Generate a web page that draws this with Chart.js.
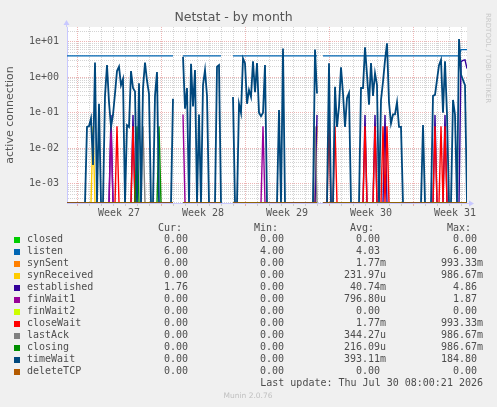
<!DOCTYPE html>
<html><head><meta charset="utf-8">
<script src="https://cdn.jsdelivr.net/npm/chart.js@4/dist/chart.umd.min.js"></script>
<style>html,body{margin:0;padding:0;background:#f0f0f0;overflow:hidden}canvas{display:block}</style>
</head><body>
<canvas id="c" width="497" height="407"></canvas>
<script>
// ---------- data ----------
const chartTitle = 'Netstat - by month';
const yAxisTitle = 'active connection';
const weekLabels = ['Week 27', 'Week 28', 'Week 29', 'Week 30', 'Week 31'];
const weekMidIdx = [26, 68, 110, 152, 194];      // sample index of each week label
const weekStartIdx = [5, 47, 89, 131, 173];      // sample index of each week start
const yTickValues = [1e-3, 1e-2, 1e-1, 1, 10];
const yTickLabels = ['1e-03', '1e-02', '1e-01', '1e+00', '1e+01'];
const yMin = 2.9e-4, yMax = 26;
const nPoints = 201;                              // 4-hour samples
const unknownRanges = [[54, 57], [78, 82], [126, 127]];  // no data (gaps)

const seriesNames = ['closed', 'listen', 'synSent', 'synReceived', 'established', 'finWait1',
  'finWait2', 'closeWait', 'lastAck', 'closing', 'timeWait', 'deleteTCP'];
const seriesColors = ['#00CC00', '#0066B3', '#FF8000', '#FFCC00', '#330099', '#990099',
  '#CCFF00', '#FF0000', '#808080', '#008F00', '#00487D', '#B35A00'];
const curValues = ['0.00', '6.00', '0.00', '0.00', '1.76', '0.00', '0.00', '0.00', '0.00', '0.00', '0.00', '0.00'];
const minValues = ['0.00', '4.00', '0.00', '0.00', '0.00', '0.00', '0.00', '0.00', '0.00', '0.00', '0.00', '0.00'];
const avgValues = ['0.00', '4.03', '1.77m', '231.97u', '40.74m', '796.80u', '0.00', '1.77m', '344.27u', '216.09u', '393.11m', '0.00'];
const maxValues = ['0.00', '6.00', '993.33m', '986.67m', '4.86', '1.87', '0.00', '993.33m', '986.67m', '986.67m', '184.80', '0.00'];
const lastUpdate = 'Last update: Thu Jul 30 08:00:21 2026';
const footer = 'Munin 2.0.76';
const sideText = 'RRDTOOL / TOBI OETIKER';

// timeWait, every 4-hour sample (null = no data)
const timeWait = [
  0, 0, 0, 0, 0, 0, 0, 0, 0, 0,
  0.04, 0.042, 0.07, 0.0034, 2.6, 0, 0.18, 0, 0, 0.3,
  2.2, 0.2, 0.04, 0.087, 0.35, 1.5, 2.0, 0.6, 0.9, 0,
  0.045, 0.04, 1.5, 0.5, 0.4, 0, 0.68, 0, 0.5, 2.6,
  0.8, 0.34, 0, 0, 0.3, 1.4, 0, 0, 0, 0,
  0, 0, 0, 0.25, null, null, null, null, 3.8, 0.13,
  0.5, 0, 2.4, 0.15, 1.6, 0, 0.09, 0, 0.6, 1.6,
  0.3, 0, 0, 0, 0, 2.0, 2.2, 0, null, null,
  null, null, null, 0.28, 0, 0, 0.18, 0.1, 3.4, 2.5,
  0.18, 0.44, 0.28, 2.8, 0.38, 2.5, 0.1, 0.08, 0.1, 2.2,
  0, 0, 0, 0, 0, 0, 0.12, 0, 6.5, 0,
  0, 0, 0, 0, 0, 0, 0, 0, 0, 0,
  0, 0, 0, 0, 6.0, 0.35, null, null, 0, 0,
  0, 2.5, 0, 0, 0.54, 0.04, 0.15, 1.9, 0.35, 0.04,
  0.26, 0.36, 0, 0, 0, 0, 0, 0.5, 0.5, 7.0,
  1.2, 0.17, 2.5, 0.3, 1.3, 0.6, 0, 0.23, 0.75, 3.0,
  9.0, 0.2, 0.05, 0.09, 0.09, 0.2, 0.04, 0.04, 0, 0,
  0, 0, 0, 0, 0, 0, 0, 0, 0.045, 0,
  0, 0, 0, 0.3, 0.32, 0.84, 2.2, 3.1, 0.1, 2.8,
  0.09, 0, 0, 0.23, 0.09, 0, 12, 1.2, 0.84, 0.6,
  0
];
// listen: [fromIdx, toIdx, value]
const listenLevels = [[0, 196, 4], [197, 200, 6]];
// sparse series: [sampleIdx, value]; all other known samples are 0
const closedSpikes = [];
const synSentSpikes = [[125, 0.042]];
const synReceivedSpikes = [[13, 0.042]];
const establishedSpikes = [[22, 0.087], [33, 0.087], [125, 0.087], [149, 0.087], [154, 0.087],
  [159, 0.087], [184, 0.087], [189, 0.087], [197, 2.75], [198, 3.0], [199, 3.1], [200, 1.76]];
const finWait1Spikes = [[22, 0.042], [58, 0.09], [98, 0.042]];
const finWait2Spikes = [];
const closeWaitSpikes = [[25, 0.042], [33, 0.042], [131, 0.042], [134, 0.042], [149, 0.042], [154, 0.042],
  [158, 0.042], [160, 0.042], [184, 0.042], [187, 0.042], [189, 0.042]];
const lastAckSpikes = [[38, 0.042], [124, 0.042]];
const closingSpikes = [[35, 0.042], [46, 0.042]];
const deleteTCPSpikes = [];

// ---------- build full series ----------
function applyGaps(out) {
  unknownRanges.forEach(([a, b]) => { for (let i = a; i <= b; i++) out[i] = null; });
  return out;
}
function fromSpikes(spikes) {
  const out = [];
  for (let i = 0; i < nPoints; i++) out.push(0);
  spikes.forEach(([i, v]) => { out[i] = v; });
  return applyGaps(out);
}
function fromLevels(levels) {
  const out = [];
  levels.forEach(([a, b, v]) => { for (let i = a; i <= b; i++) out[i] = v; });
  return applyGaps(out);
}
const seriesData = [
  fromSpikes(closedSpikes), fromLevels(listenLevels), fromSpikes(synSentSpikes),
  fromSpikes(synReceivedSpikes), fromSpikes(establishedSpikes), fromSpikes(finWait1Spikes),
  fromSpikes(finWait2Spikes), fromSpikes(closeWaitSpikes), fromSpikes(lastAckSpikes),
  fromSpikes(closingSpikes), timeWait.slice(), fromSpikes(deleteTCPSpikes)
];

// on a log axis a zero sample is drawn on the floor of the axis (as rrdtool does)
const toPlot = (y) => (y === 0 ? yMin : y);

const datasets = seriesNames.map((name, k) => ({
  label: name,
  data: seriesData[k].map((y, i) => ({ x: i, y: y === null ? null : toPlot(y) })),
  borderColor: seriesColors[k],
  backgroundColor: seriesColors[k],
  borderWidth: name === 'timeWait' ? 1.8 : 1.4,
  pointRadius: 0,
  tension: 0,
  fill: false,
  spanGaps: false,
  order: 100 - k          // later series drawn on top, like rrdtool
}));

// ---------- axis tick helpers ----------
const dayTicks = [];
for (let v = weekStartIdx[0]; v <= 200; v += 6) dayTicks.push(v);
const xTicks = dayTicks.concat(weekMidIdx).sort((a, b) => a - b);
const yGrid = [];
for (let e = -4; e <= 1; e++) for (let m = 1; m <= 9; m++) {
  const v = m * Math.pow(10, e);
  if (v >= yMin && v <= yMax) yGrid.push(v);
}
const majorGrid = 'rgba(222,120,120,0.55)';
const minorGrid = 'rgba(170,170,170,0.5)';
function isDecade(v) { return yTickValues.some(t => Math.abs(t - v) / t < 1e-6); }

// ---------- plugins ----------
const bgPlugin = {
  id: 'bg',
  beforeDraw(chart) {
    const { ctx, chartArea: a } = chart;
    ctx.save();
    ctx.fillStyle = '#f0f0f0';
    ctx.fillRect(0, 0, chart.width, chart.height);
    ctx.fillStyle = '#ffffff';
    ctx.fillRect(a.left, a.top, a.right - a.left, a.bottom - a.top);
    ctx.restore();
  }
};
const decorPlugin = {
  id: 'decor',
  afterDraw(chart) {
    const { ctx, chartArea: a } = chart;
    ctx.save();
    // axis arrows
    ctx.fillStyle = '#c8c8ff';
    ctx.strokeStyle = '#c8c8ff';
    ctx.lineWidth = 1;
    const yb = a.bottom + 0.5;
    ctx.beginPath(); ctx.moveTo(a.right, yb); ctx.lineTo(a.right + 3, yb); ctx.stroke();
    ctx.beginPath(); ctx.moveTo(a.right + 7, yb); ctx.lineTo(a.right + 2, yb - 3); ctx.lineTo(a.right + 2, yb + 3); ctx.closePath(); ctx.fill();
    const xl = a.left - 0.5;
    ctx.beginPath(); ctx.moveTo(xl, a.top); ctx.lineTo(xl, a.top - 3); ctx.stroke();
    ctx.beginPath(); ctx.moveTo(xl, a.top - 7); ctx.lineTo(xl - 3, a.top - 2); ctx.lineTo(xl + 3, a.top - 2); ctx.closePath(); ctx.fill();

    // side text
    ctx.save();
    ctx.translate(487.5, 13);
    ctx.rotate(Math.PI / 2);
    ctx.fillStyle = '#c8c8c8';
    ctx.font = '7px "DejaVu Sans"';
    ctx.textAlign = 'left';
    ctx.textBaseline = 'middle';
    ctx.fillText(sideText, 0, 0);
    ctx.restore();

    // legend table
    ctx.font = '10px "DejaVu Sans Mono"';
    ctx.fillStyle = '#4d4d4d';
    ctx.textBaseline = 'middle';
    const colEnds = [188, 284, 380, 477];
    const headers = ['Cur:', 'Min:', 'Avg:', 'Max:'];
    const headerY = 228;
    ctx.textAlign = 'right';
    headers.forEach((h, c) => ctx.fillText(h, colEnds[c] - 6, headerY));
    const cols = [curValues, minValues, avgValues, maxValues];
    seriesNames.forEach((name, k) => {
      const y = 239.5 + k * 12;
      ctx.fillStyle = seriesColors[k];
      ctx.fillRect(14, Math.round(y) - 3, 6, 6);
      ctx.fillStyle = '#4d4d4d';
      ctx.textAlign = 'left';
      ctx.fillText(name, 27, y);
      cols.forEach((col, c) => {
        const s = col[k];
        const m = s.match(/^([-\d.]+)([a-zA-Z]?)$/);
        ctx.textAlign = 'right';
        ctx.fillText(m[1], colEnds[c], y);
        if (m[2]) { ctx.textAlign = 'left'; ctx.fillText(m[2], colEnds[c], y); }
      });
    });
    ctx.textAlign = 'right';
    ctx.fillText(lastUpdate, 483, 383.5);
    ctx.fillStyle = '#c0c0c0';
    ctx.font = '7.5px "DejaVu Sans"';
    ctx.textAlign = 'center';
    ctx.fillText(footer, 248, 396);
    ctx.restore();
  }
};

new Chart(document.getElementById('c'), {
  type: 'line',
  data: { datasets: datasets },
  options: {
    responsive: false,
    animation: false,
    devicePixelRatio: 1,
    events: [],
    layout: { padding: { left: 0, right: 30, top: 0, bottom: 188 } },
    plugins: {
      legend: { display: false },
      tooltip: { enabled: false },
      title: {
        display: true, text: chartTitle, color: '#555555',
        font: { family: 'DejaVu Sans', size: 12.5, weight: 'normal' },
        padding: { top: 10, bottom: 2 }
      }
    },
    scales: {
      x: {
        type: 'linear', min: 0, max: 200, bounds: 'data',
        afterBuildTicks: (s) => { s.ticks = xTicks.map(v => ({ value: v })); },
        afterFit: (s) => { s.height = 16; },
        ticks: {
          autoSkip: false, maxRotation: 0, minRotation: 0, padding: 1, color: '#555555',
          font: { family: 'DejaVu Sans Mono', size: 10 },
          callback: (v) => { const k = weekMidIdx.indexOf(v); return k >= 0 ? weekLabels[k] : ''; }
        },
        grid: {
          color: (c) => {
            const v = c.tick ? c.tick.value : null;
            if (weekStartIdx.includes(v)) return majorGrid;
            if (weekMidIdx.includes(v)) return 'rgba(0,0,0,0)';
            return minorGrid;
          },
          lineWidth: 1, tickLength: 3, drawTicks: true
        },
        border: { display: true, color: '#c8c8ff', dash: [1, 1] }
      },
      y: {
        type: 'logarithmic', min: yMin, max: yMax, bounds: 'data',
        afterBuildTicks: (s) => { s.ticks = yGrid.map(v => ({ value: v })); },
        afterFit: (s) => { s.width = 67; },
        ticks: {
          autoSkip: false, padding: 8, color: '#555555',
          font: { family: 'DejaVu Sans Mono', size: 10 },
          callback: (v) => {
            const k = yTickValues.findIndex(t => Math.abs(t - v) / t < 1e-6);
            return k >= 0 ? yTickLabels[k] : '';
          }
        },
        grid: {
          color: (c) => (c.tick && isDecade(c.tick.value)) ? majorGrid : minorGrid,
          lineWidth: 1, drawTicks: false
        },
        border: { display: true, color: '#c8c8ff', dash: [1, 1] },
        title: {
          display: true, text: yAxisTitle, color: '#555555',
          font: { family: 'DejaVu Sans', size: 11 },
          padding: { top: 4, bottom: 0 }
        }
      }
    }
  },
  plugins: [bgPlugin, decorPlugin]
});
</script>
</body></html>
